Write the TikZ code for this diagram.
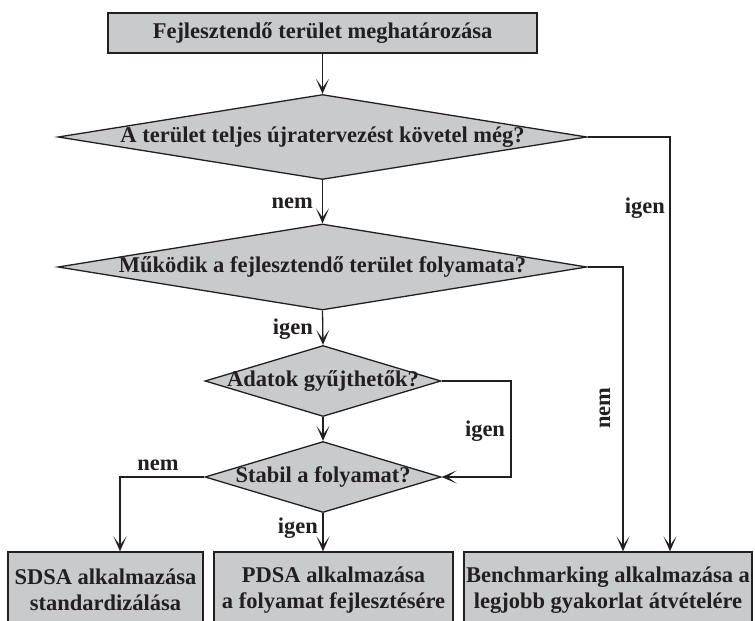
\documentclass[tikz,border=0pt]{standalone}
\usepackage{fontspec}
\setmainfont{Liberation Serif}
\usetikzlibrary{shapes.geometric,arrows.meta}
\definecolor{boxgray}{HTML}{C9CACC}
\definecolor{ink}{HTML}{231F20}
\begin{document}
\begin{tikzpicture}[x=1pt,y=-1pt,
  every node/.style={font=\bfseries\fontsize{22.5}{26}\selectfont, text=ink},
  flowbox/.style={draw=ink, fill=boxgray, line width=1.3pt, rectangle, inner sep=0pt, align=center},
  decision/.style={draw=ink, fill=boxgray, line width=1.3pt, diamond, inner sep=0pt},
  arr/.style={draw=ink, line width=1.3pt, -{Stealth[length=15pt,width=13pt,inset=9pt]}},
  lbl/.style={inner sep=0pt}
]
\useasboundingbox (0,0) rectangle (755,621);

% process boxes
\node[flowbox, minimum width=429pt, minimum height=40pt] (top) at (322.5,33) {Fejlesztendő terület meghatározása};
\node[flowbox, minimum width=195pt, minimum height=76pt] (b1) at (105.5,590) {SDSA alkalmazása\\standardizálása};
\node[flowbox, minimum width=239pt, minimum height=76pt] (b2) at (333.5,590) {PDSA alkalmazása\\a folyamat fejlesztésére};
\node[flowbox, minimum width=288pt, minimum height=76pt] (b3) at (608,590) {Benchmarking alkalmazása a\\legjobb gyakorlat átvételére};

% decisions
\node[decision, minimum width=529pt, minimum height=85pt] (d1) at (322.5,137) {};
\node at (d1.center) {A terület teljes újratervezést követel még?};
\node[decision, minimum width=529pt, minimum height=86pt] (d2) at (322.5,267) {};
\node at (d2.center) {Működik a fejlesztendő terület folyamata?};
\node[decision, minimum width=236pt, minimum height=71pt] (d3) at (323,381) {};
\node at (d3.center) {Adatok gyűjthetők?};
\node[decision, minimum width=236pt, minimum height=71pt] (d4) at (323,477) {};
\node at (d4.center) {Stabil a folyamat?};

% side lanes
\coordinate (laneA) at (670,0);
\coordinate (laneB) at (623,0);
\coordinate (laneC) at (511,0);
\coordinate (laneD) at (120,0);

% connectors
\draw[arr] (top.south) -- (d1.north);
\draw[arr] (d1.south) -- (d2.north);
\draw[arr] (d2.south) -- (d3.north);
\draw[arr] (d3.south) -- (d4.north);
\draw[arr] (d4.south) -- (b2.north -| d4.south);
\draw[arr] (d1.east) -| (laneA |- b3.north);
\draw[arr] (d2.east) -| (laneB |- b3.north);
\draw[arr] (d3.east) -- (laneC |- d3.east) -- (laneC |- d4.east) -- (d4.east);
\draw[arr] (d4.west) -- (laneD |- d4.west) -- (laneD |- b1.north);

% branch labels
\node[lbl, anchor=east] at (313,203) {nem};
\node[lbl, anchor=east] at (313,329) {igen};
\node[lbl, anchor=east] at (318,528) {igen};
\node[lbl] at (485,431) {igen};
\node[lbl] at (158,465) {nem};
\node[lbl, anchor=east] at (665,208) {igen};
\node[lbl, rotate=90] at (605,408) {nem};
\end{tikzpicture}
\end{document}
